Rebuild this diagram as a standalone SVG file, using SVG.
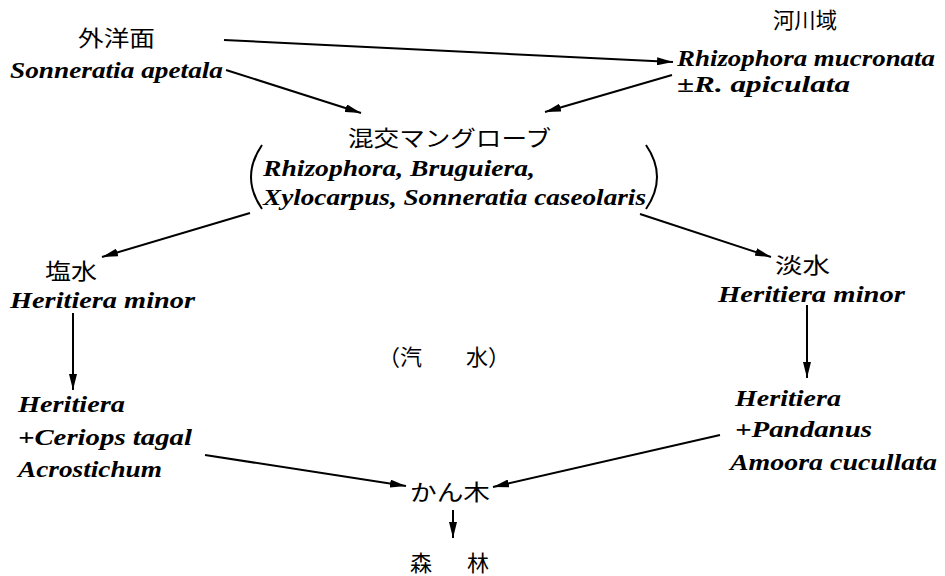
<svg xmlns="http://www.w3.org/2000/svg" width="945" height="576" viewBox="0 0 945 576">
<defs>
<marker id="ah" viewBox="0 0 16 8" refX="16" refY="4" markerWidth="16" markerHeight="8" markerUnits="userSpaceOnUse" orient="auto">
<path d="M0,0 L16,4 L0,8 Z" fill="#000"/>
</marker>
</defs>
<style>
.jp{font-family:"Noto Sans CJK JP","Noto Sans CJK SC",sans-serif;font-size:22px;fill:#000}
.la{font-family:"Liberation Serif",serif;font-style:italic;font-weight:bold;font-size:23px;fill:#000}
.cn{stroke:#000;stroke-width:2;fill:none;marker-end:url(#ah)}
.par{stroke:#000;stroke-width:2;fill:none}
</style>
<rect width="945" height="576" fill="#fff"/>
<g id="n-gaiyomen">
<text class="jp" x="78" y="46" textLength="77" lengthAdjust="spacingAndGlyphs">外洋面</text>
<text class="la" x="10" y="78" textLength="213" lengthAdjust="spacingAndGlyphs">Sonneratia apetala</text>
</g>
<g id="n-kasen">
<text class="jp" x="773" y="28" textLength="64" lengthAdjust="spacingAndGlyphs">河川域</text>
<text class="la" x="677" y="66" textLength="258" lengthAdjust="spacingAndGlyphs">Rhizophora mucronata</text>
<text class="la" x="677" y="92" textLength="173" lengthAdjust="spacingAndGlyphs">±R. apiculata</text>
</g>
<g id="n-mixed">
<text class="jp" x="348" y="146" textLength="203" lengthAdjust="spacingAndGlyphs">混交マングローブ</text>
<path class="par" d="M262,145 Q240,177 262,209"/>
<path class="par" d="M646,145 Q668,177 646,209"/>
<text class="la" x="263" y="176" textLength="272" lengthAdjust="spacingAndGlyphs">Rhizophora, Bruguiera,</text>
<text class="la" x="263" y="205" textLength="383" lengthAdjust="spacingAndGlyphs">Xylocarpus, Sonneratia caseolaris</text>
</g>
<g id="n-ensui">
<text class="jp" x="45" y="279" textLength="52" lengthAdjust="spacingAndGlyphs">塩水</text>
<text class="la" x="10" y="308" textLength="185" lengthAdjust="spacingAndGlyphs">Heritiera minor</text>
</g>
<g id="n-tansui">
<text class="jp" x="775" y="273" textLength="55" lengthAdjust="spacingAndGlyphs">淡水</text>
<text class="la" x="718" y="302" textLength="187" lengthAdjust="spacingAndGlyphs">Heritiera minor</text>
</g>
<g id="n-kisui">
<text class="jp" x="378" y="365">（汽</text>
<text class="jp" x="466" y="365">水）</text>
</g>
<g id="n-left2">
<text class="la" x="18" y="412" textLength="107" lengthAdjust="spacingAndGlyphs">Heritiera</text>
<text class="la" x="18" y="445" textLength="174" lengthAdjust="spacingAndGlyphs">+Ceriops tagal</text>
<text class="la" x="18" y="477" textLength="144" lengthAdjust="spacingAndGlyphs">Acrostichum</text>
</g>
<g id="n-right2">
<text class="la" x="735" y="406" textLength="106" lengthAdjust="spacingAndGlyphs">Heritiera</text>
<text class="la" x="735" y="437" textLength="137" lengthAdjust="spacingAndGlyphs">+Pandanus</text>
<text class="la" x="730" y="470" textLength="207" lengthAdjust="spacingAndGlyphs">Amoora cucullata</text>
</g>
<g id="n-kanboku">
<text class="jp" x="410" y="500" textLength="80" lengthAdjust="spacingAndGlyphs">かん木</text>
</g>
<g id="n-shinrin">
<text class="jp" x="410" y="571">森</text>
<text class="jp" x="467" y="571">林</text>
</g>
<g id="connectors">
<line class="cn" x1="224" y1="40" x2="673" y2="62"/>
<line class="cn" x1="226" y1="70" x2="361" y2="113"/>
<line class="cn" x1="672" y1="75" x2="545" y2="112"/>
<line class="cn" x1="250" y1="213" x2="102" y2="257"/>
<line class="cn" x1="640" y1="214" x2="771" y2="257"/>
<line class="cn" x1="73" y1="313" x2="73" y2="390"/>
<line class="cn" x1="807" y1="305" x2="807" y2="378"/>
<line class="cn" x1="205" y1="455" x2="406" y2="486"/>
<line class="cn" x1="720" y1="435" x2="493" y2="487"/>
<line class="cn" x1="453" y1="510" x2="453" y2="538"/>
</g>
</svg>
